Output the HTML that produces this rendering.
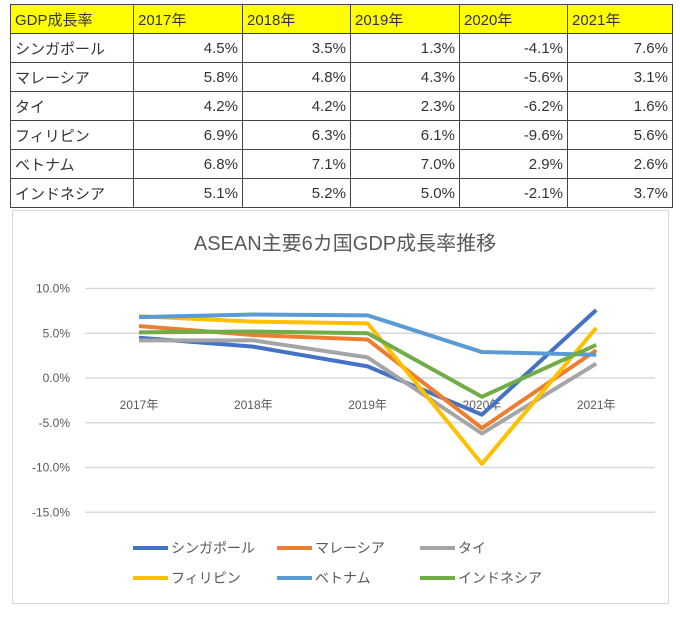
<!DOCTYPE html>
<html><head><meta charset="utf-8"><style>
body{margin:0;width:680px;height:620px;background:#fff;font-family:"Liberation Sans","Noto Sans CJK JP",sans-serif;position:relative;overflow:hidden}
table{position:absolute;left:10px;top:4px;border-collapse:collapse;font-size:15px;color:#333}
td{border:1.5px solid #444;height:29px;padding:0 4px;box-sizing:border-box}
tr.h td{background:#ffff00}
td.n{text-align:right}
#chart{position:absolute;left:12px;top:210px;width:657px;height:394px;border:1px solid #d8d8d8;box-sizing:border-box}
</style></head><body>
<table>
<colgroup><col style="width:123px"><col style="width:109px"><col style="width:108px"><col style="width:109px"><col style="width:108px"><col style="width:105px"></colgroup>
<tr class="h"><td>GDP成長率</td><td>2017年</td><td>2018年</td><td>2019年</td><td>2020年</td><td>2021年</td></tr>
<tr><td>シンガポール</td><td class="n">4.5%</td><td class="n">3.5%</td><td class="n">1.3%</td><td class="n">-4.1%</td><td class="n">7.6%</td></tr>
<tr><td>マレーシア</td><td class="n">5.8%</td><td class="n">4.8%</td><td class="n">4.3%</td><td class="n">-5.6%</td><td class="n">3.1%</td></tr>
<tr><td>タイ</td><td class="n">4.2%</td><td class="n">4.2%</td><td class="n">2.3%</td><td class="n">-6.2%</td><td class="n">1.6%</td></tr>
<tr><td>フィリピン</td><td class="n">6.9%</td><td class="n">6.3%</td><td class="n">6.1%</td><td class="n">-9.6%</td><td class="n">5.6%</td></tr>
<tr><td>ベトナム</td><td class="n">6.8%</td><td class="n">7.1%</td><td class="n">7.0%</td><td class="n">2.9%</td><td class="n">2.6%</td></tr>
<tr><td>インドネシア</td><td class="n">5.1%</td><td class="n">5.2%</td><td class="n">5.0%</td><td class="n">-2.1%</td><td class="n">3.7%</td></tr>
</table>
<div id="chart"></div>
<svg id="svg" width="680" height="620" style="position:absolute;left:0;top:0"></svg>
<script>
const categories=["2017年","2018年","2019年","2020年","2021年"];
const names=["シンガポール","マレーシア","タイ","フィリピン","ベトナム","インドネシア"];
const colors=["#4472c4","#ed7d31","#a5a5a5","#ffc000","#5b9bd5","#70ad47"];
const sSing=[4.5,3.5,1.3,-4.1,7.6];
const sMal=[5.8,4.8,4.3,-5.6,3.1];
const sThai=[4.2,4.2,2.3,-6.2,1.6];
const sPhil=[6.9,6.3,6.1,-9.6,5.6];
const sViet=[6.8,7.1,7.0,2.9,2.6];
const sIndo=[5.1,5.2,5.0,-2.1,3.7];
const series=[sSing,sMal,sThai,sPhil,sViet,sIndo];
const ticks=[10,5,0,-5,-10,-15];
const tickLabels=["10.0%","5.0%","0.0%","-5.0%","-10.0%","-15.0%"];
const NS="http://www.w3.org/2000/svg";
const svg=document.getElementById('svg');
const y=v=>378-v*8.95;
const x=i=>139+i*114.3;
function mk(t,a,txt){const e=document.createElementNS(NS,t);for(const k in a)e.setAttribute(k,a[k]);if(txt!=null)e.textContent=txt;svg.appendChild(e);return e;}
let t=mk('text',{x:345,y:250,'text-anchor':'middle','font-size':'20',fill:'#595959'},'ASEAN主要6カ国GDP成長率推移');


ticks.forEach((v,i)=>{
 let g=mk('line',{x1:85,x2:655,y1:y(v),y2:y(v),stroke:'#d9d9d9','stroke-width':1.5});
 
 
 let l=mk('text',{x:70,y:y(v)+4,'text-anchor':'end','font-size':'12',fill:'#595959'},tickLabels[i]);
 
 
});
categories.forEach((c,i)=>{
 let l=mk('text',{x:x(i),y:409,'text-anchor':'middle','font-size':'12',fill:'#595959'},c);
 
 
});
series.forEach((s,k)=>{
 let p=mk('polyline',{points:s.map((v,i)=>x(i)+','+y(v)).join(' '),fill:'none',stroke:colors[k],'stroke-width':4,'stroke-linejoin':'round'});
 
 
});
const lx=[133,277,420];
names.forEach((n,k)=>{
 const cx=lx[k%3],cy=k<3?548:578;
 let l=mk('line',{x1:cx,x2:cx+35,y1:cy,y2:cy,stroke:colors[k],'stroke-width':4});
 
 
 let tx=mk('text',{x:cx+38,y:cy+5,'font-size':'14',fill:'#595959'},n);
 
 
});
</script>
</body></html>
